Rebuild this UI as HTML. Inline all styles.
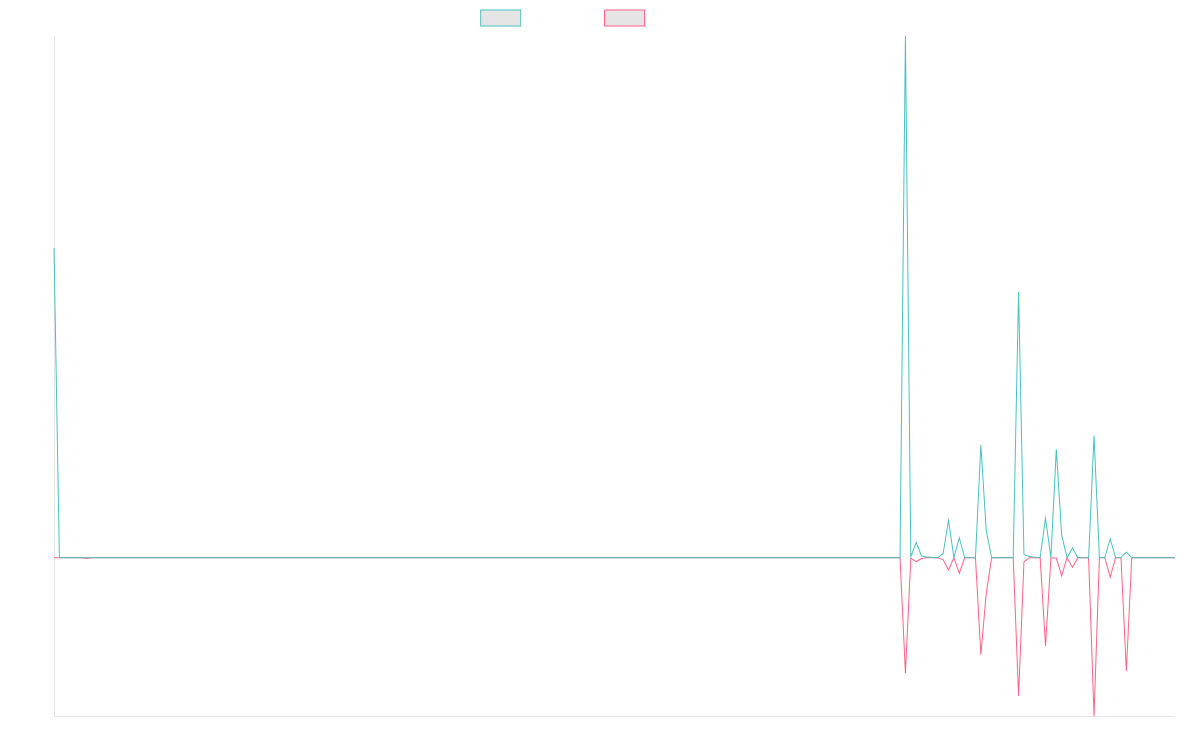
<!DOCTYPE html>
<html lang="en">
<head>
<meta charset="utf-8">
<title>Chart</title>
<style>
html,body{margin:0;padding:0;background:#fff;width:1200px;height:750px;overflow:hidden;font-family:"Liberation Sans",sans-serif}
svg{display:block;position:absolute;left:0;top:0}
</style>
</head>
<body>
<svg width="1200" height="750" viewBox="0 0 1200 750">
<rect x="480.7" y="10" width="40" height="16" fill="rgba(0,0,0,0.1)" stroke="rgb(75,192,192)" stroke-width="1"/>
<rect x="604.55" y="10" width="40" height="16" fill="rgba(0,0,0,0.1)" stroke="rgb(255,99,132)" stroke-width="1"/>
<rect x="54" y="36" width="1" height="681" fill="rgba(0,0,0,0.1)"/>
<rect x="55" y="716" width="1120" height="1" fill="rgba(0,0,0,0.1)"/>
<rect x="54" y="557.2" width="26" height="1" fill="rgb(255,99,132)"/>
<rect x="93" y="557.2" width="806" height="1" fill="rgb(255,99,132)"/>
<rect x="966" y="557.2" width="8" height="1" fill="rgb(255,99,132)"/>
<rect x="993" y="557.2" width="19" height="1" fill="rgb(255,99,132)"/>
<rect x="1079" y="557.2" width="8" height="1" fill="rgb(255,99,132)"/>
<rect x="1133" y="557.2" width="41.85" height="1" fill="rgb(255,99,132)"/>
<path fill="rgb(255,99,132)" fill-rule="evenodd" d="M91.721,557.2L91.689,557.2L91.657,557.204L86.332,557.896L81.008,557.204L80.976,557.2L80.944,557.2L80,557.2L80,558.2L80.911,558.2L86.268,558.896L86.332,558.904L86.397,558.896L91.753,558.2L93,558.2L93,557.2ZM948.485,568.845L943.579,559.468L943.49,559.298L943.31,559.231L937.921,557.231L937.837,557.2L937.747,557.2L932.358,557.2L932.354,557.2L932.349,557.2L926.96,557.3L926.937,557.301L926.914,557.303L921.526,557.903L921.415,557.915L921.32,557.974L916.2,561.109L911.076,557.781L910.345,557.306L910.304,558.177L905.416,662.495L900.526,557.677L900.503,557.2L900.026,557.2L899,557.2L899,558.2L899.549,558.2L904.915,673.223L905.914,673.223L911.262,559.094L915.92,562.119L916.184,562.291L916.453,562.126L921.747,558.885L927.002,558.299L932.363,558.2L937.657,558.2L942.782,560.102L948.081,570.232L948.564,571.155L948.982,570.201L953.858,559.072L958.829,573.463L959.302,574.831L959.775,573.463L965.047,558.2L966,558.2L966,557.2L964.691,557.2L964.334,557.2L964.218,557.537L959.302,571.769L954.386,557.537L953.968,556.328L953.455,557.499ZM974.995,558.2L980.358,654.728L981.355,654.744L986.742,593.559L992.065,558.2L993,558.2L993,557.2L991.634,557.2L991.204,557.2L991.14,557.626L985.751,593.426L985.749,593.441L985.747,593.456L980.97,647.718L975.967,557.672L975.941,557.2L975.468,557.2L974,557.2L974,558.2ZM1012.708,558.2L1018.078,695.72L1019.077,695.72L1024.456,561.963L1029.519,558.298L1039.662,558.204L1045.022,645.93L1046.02,645.931L1051.38,558.5L1055.927,558.5L1061.208,576.044L1061.691,577.648L1062.167,576.042L1067.219,558.977L1072.029,567.545L1072.465,568.321L1072.901,567.545L1078.146,558.2L1079,558.2L1079,557.2L1077.853,557.2L1077.561,557.2L1077.417,557.455L1072.465,566.279L1067.512,557.455L1066.933,556.423L1066.597,557.558L1061.683,574.152L1056.777,557.856L1056.67,557.5L1056.299,557.5L1050.91,557.5L1050.44,557.5L1050.411,557.969L1045.522,637.715L1040.632,557.67L1040.603,557.196L1040.128,557.2L1029.35,557.3L1029.191,557.302L1029.062,557.395L1023.673,561.295L1023.477,561.437L1023.467,561.68L1018.585,683.074L1013.689,557.68L1013.67,557.2L1013.189,557.2L1012,557.2L1012,558.2ZM1088.148,558.2L1093.52,716.017L1094.519,716.017L1099.891,558.35L1104.417,558.35L1109.704,577.334L1110.186,579.064L1110.667,577.334L1115.954,558.35L1120.486,558.35L1125.852,670.924L1126.851,670.924L1132.217,558.2L1133,558.2L1133,557.2L1131.74,557.2L1131.264,557.2L1131.241,557.676L1126.351,660.392L1121.462,557.826L1121.44,557.35L1120.963,557.35L1115.574,557.35L1115.194,557.35L1115.093,557.716L1110.186,575.336L1105.279,557.716L1105.177,557.35L1104.797,557.35L1099.408,557.35L1098.925,557.35L1098.908,557.833L1094.02,701.31L1089.13,557.683L1089.114,557.2L1088.631,557.2L1087,557.2L1087,558.2Z"/>
<rect x="61" y="557.2" width="838" height="1" fill="rgb(75,192,192)"/>
<rect x="966" y="557.2" width="8" height="1" fill="rgb(75,192,192)"/>
<rect x="993" y="557.2" width="19" height="1" fill="rgb(75,192,192)"/>
<rect x="1079" y="557.2" width="8" height="1" fill="rgb(75,192,192)"/>
<rect x="1133" y="557.2" width="41.85" height="1" fill="rgb(75,192,192)"/>
<path fill="rgb(75,192,192)" fill-rule="evenodd" d="M54.5,247.991L53.5,248.009L58.889,557.709L58.897,558.2L59.389,558.2L61,558.2L61,557.2L59.88,557.2ZM900.026,558.2L900.521,558.2L900.526,557.705L905.415,84.368L910.304,556.805L910.331,559.488L911.272,556.975L916.206,543.791L921.116,556.184L921.216,556.436L921.481,556.49L926.87,557.59L926.905,557.597L926.942,557.599L937.719,558.199L937.907,558.21L938.054,558.094L943.443,553.894L943.598,553.774L943.629,553.58L948.495,523.602L953.418,557.771L953.762,560.159L954.396,557.831L959.302,539.804L964.208,557.831L964.309,558.2L964.691,558.2L966,558.2L966,557.2L965.073,557.2L959.784,537.769L959.302,535.996L958.819,537.769L954.064,555.241L949.019,520.229L948.554,516.998L948.031,520.22L942.674,553.226L937.588,557.19L927.034,556.603L921.946,555.564L916.657,542.216L916.179,541.009L915.724,542.225L911.276,554.112L905.915,35.995L904.915,35.995L899.531,557.2L899,557.2L899,558.2ZM975.468,558.2L975.945,558.2L975.967,557.724L980.925,454.036L985.746,530.531L985.749,530.565L985.755,530.597L991.144,557.797L991.223,558.2L991.634,558.2L993,558.2L993,557.2L992.045,557.2L986.742,530.435L981.356,444.969L980.357,444.976L974.991,557.2L974,557.2L974,558.2ZM1013.189,558.2L1013.679,558.2L1013.689,557.71L1018.581,316.509L1023.466,554.51L1023.473,554.844L1023.785,554.966L1029.173,557.066L1029.228,557.087L1029.286,557.095L1034.675,557.845L1034.698,557.848L1034.721,557.849L1040.109,558.099L1040.566,558.121L1040.628,557.668L1045.521,521.985L1050.414,557.768L1051.409,557.725L1056.356,458.213L1061.188,535.331L1061.191,535.375L1061.201,535.417L1066.59,557.817L1066.89,559.064L1067.513,557.943L1072.465,549.03L1077.416,557.943L1077.559,558.2L1077.853,558.2L1079,558.2L1079,557.2L1078.148,557.2L1072.902,547.757L1072.465,546.97L1072.028,547.757L1067.262,556.336L1062.184,535.225L1056.798,449.269L1055.799,449.275L1050.677,552.309L1046.017,518.232L1045.522,514.615L1045.026,518.232L1039.699,557.079L1034.79,556.852L1029.482,556.113L1024.459,554.156L1019.078,291.99L1018.078,291.99L1012.699,557.2L1012,557.2L1012,558.2ZM1088.631,558.2L1089.109,558.2L1089.13,557.722L1094.02,446.929L1098.909,557.472L1098.93,557.95L1099.408,557.95L1104.797,557.95L1105.173,557.95L1105.277,557.589L1110.186,540.601L1115.094,557.589L1115.198,557.95L1115.574,557.95L1120.963,557.95L1121.172,557.95L1121.319,557.802L1126.344,552.719L1131.377,558.043L1131.525,558.2L1131.74,558.2L1133,558.2L1133,557.2L1131.956,557.2L1126.715,551.657L1126.36,551.281L1125.996,551.648L1120.754,556.95L1115.95,556.95L1110.666,538.661L1110.186,536.999L1109.705,538.661L1104.421,556.95L1099.887,556.95L1094.519,435.578L1093.52,435.578L1088.152,557.2L1087,557.2L1087,558.2Z"/>
</svg>
</body>
</html>
